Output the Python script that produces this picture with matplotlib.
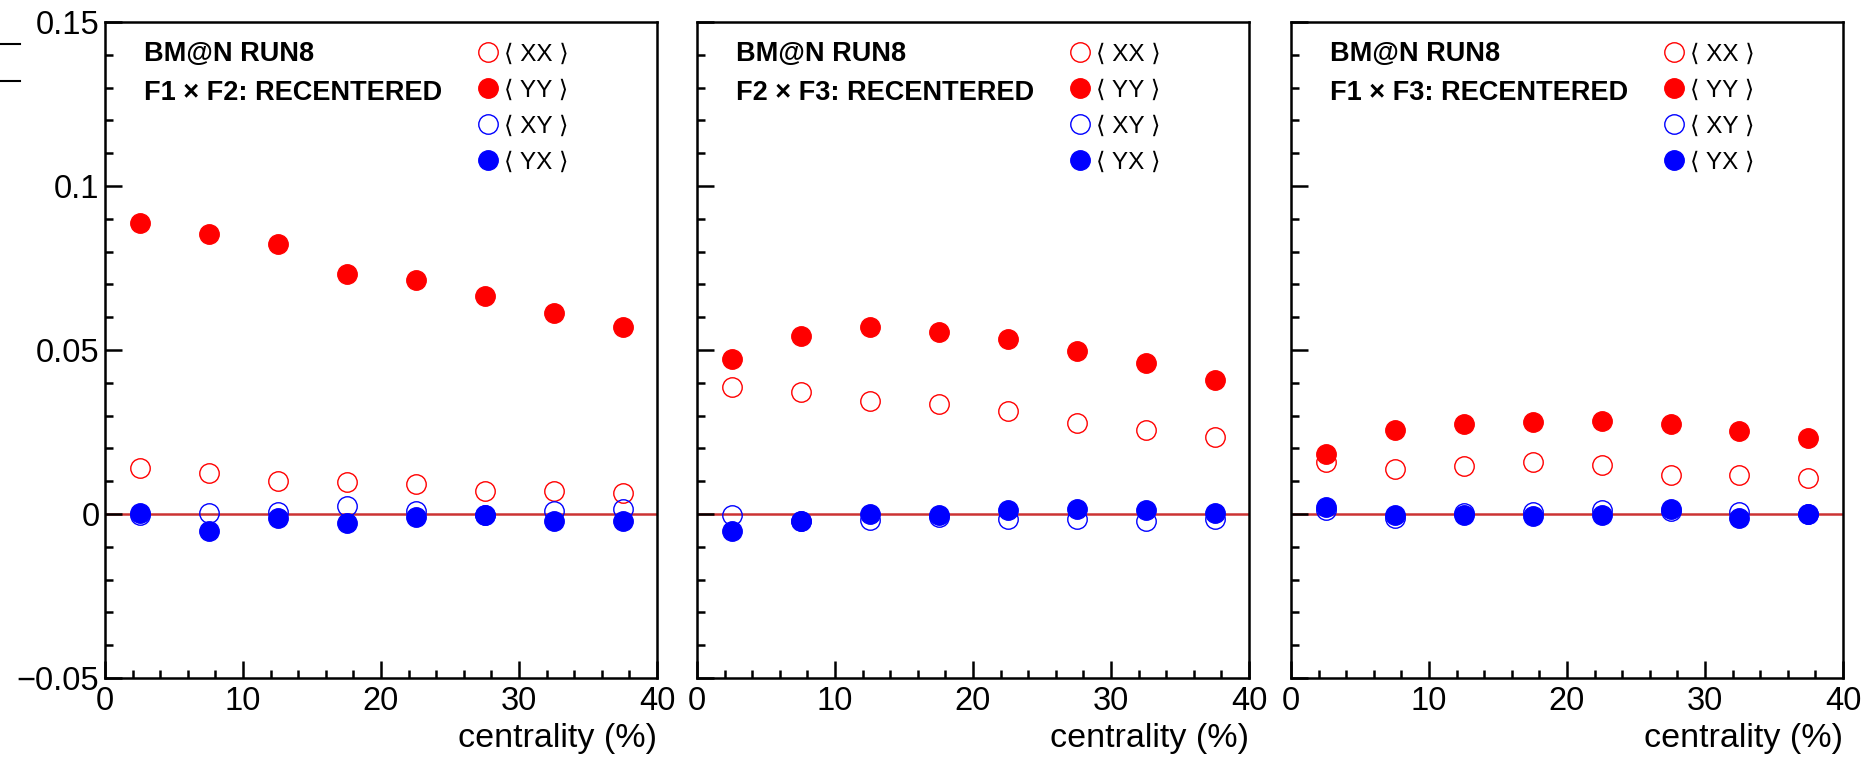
import matplotlib
matplotlib.use("Agg")
import matplotlib.pyplot as plt
from matplotlib.lines import Line2D

plt.rcParams['font.family'] = ['Liberation Sans', 'DejaVu Sans']

# centrality bin centres (%)
cent = [2.5, 7.5, 12.5, 17.5, 22.5, 27.5, 32.5, 37.5]

# F1 x F2
f12_xx = [0.0141, 0.0124, 0.0102, 0.0097, 0.0091, 0.0071, 0.0071, 0.0064]
f12_yy = [0.0888, 0.0855, 0.0824, 0.0731, 0.0714, 0.0666, 0.0614, 0.0570]
f12_xy = [-0.0003, 0.0003, 0.0007, 0.0023, 0.0008, -0.0002, 0.0008, 0.0015]
f12_yx = [0.0003, -0.0051, -0.0013, -0.0028, -0.0010, -0.0003, -0.0022, -0.0022]

# F2 x F3
f23_xx = [0.0387, 0.0371, 0.0345, 0.0335, 0.0313, 0.0277, 0.0257, 0.0235]
f23_yy = [0.0474, 0.0542, 0.0569, 0.0555, 0.0533, 0.0498, 0.0459, 0.0410]
f23_xy = [-0.0004, -0.0022, -0.0017, -0.0009, -0.0014, -0.0016, -0.0021, -0.0014]
f23_yx = [-0.0051, -0.0022, 0.0001, -0.0002, 0.0013, 0.0014, 0.0013, 0.0004]

# F1 x F3
f13_xx = [0.0159, 0.0136, 0.0145, 0.0160, 0.0148, 0.0120, 0.0118, 0.0111]
f13_yy = [0.0184, 0.0256, 0.0274, 0.0282, 0.0284, 0.0274, 0.0253, 0.0233]
f13_xy = [0.0013, -0.0011, 0.0003, 0.0006, 0.0011, 0.0008, 0.0006, 0.0001]
f13_yx = [0.0021, -0.0002, -0.0004, -0.0005, -0.0004, 0.0014, -0.0012, 0.0001]

titles = ["F1 \u00d7 F2: RECENTERED", "F2 \u00d7 F3: RECENTERED", "F1 \u00d7 F3: RECENTERED"]
series_labels = ["\u27e8 XX \u27e9", "\u27e8 YY \u27e9", "\u27e8 XY \u27e9", "\u27e8 YX \u27e9"]
yticks = [-0.05, 0, 0.05, 0.1, 0.15]
ytick_labels = ["\u22120.05", "0", "0.05", "0.1", "0.15"]
xticks = [0, 10, 20, 30, 40]

panels = [
    (f12_xx, f12_yy, f12_xy, f12_yx),
    (f23_xx, f23_yy, f23_xy, f23_yx),
    (f13_xx, f13_yy, f13_xy, f13_yx),
]

W, H = 1866, 759
fig = plt.figure(figsize=(W / 100, H / 100), dpi=100)

lefts = [105, 697, 1291]
ax_w = 552
ax_top, ax_bot = 22, 678

ms = 14
for i, (xx, yy, xy, yx) in enumerate(panels):
    ax = fig.add_axes([lefts[i] / W, 1 - ax_bot / H, ax_w / W, (ax_bot - ax_top) / H])
    ax.axhline(0, color='#cc3333', lw=1.8, zorder=1)
    h1, = ax.plot(cent, xx, 'o', ms=ms, mfc='none', mec='red', mew=1.0, zorder=3)
    h2, = ax.plot(cent, yy, 'o', ms=ms, mfc='red', mec='red', mew=1.0, zorder=3)
    h3, = ax.plot(cent, xy, 'o', ms=ms, mfc='none', mec='blue', mew=1.0, zorder=3)
    h4, = ax.plot(cent, yx, 'o', ms=ms, mfc='blue', mec='blue', mew=1.0, zorder=4)

    ax.set_xlim(0, 40)
    ax.set_ylim(-0.05, 0.15)
    ax.set_xticks(xticks)
    ax.set_xticks(range(0, 41, 2), minor=True)
    ax.set_yticks(yticks)
    ax.set_yticks([k * 0.01 for k in range(-5, 16)], minor=True)
    if i == 0:
        ax.set_yticklabels(ytick_labels)
    else:
        ax.set_yticklabels([])
    ax.tick_params(which='both', direction='in', top=False, right=False, width=1.8,
                   labelsize=23.5)
    ax.tick_params(which='major', length=12, pad=6)
    ax.tick_params(which='minor', length=6)
    ax.tick_params(axis='y', pad=4)
    for s in ax.spines.values():
        s.set_linewidth(1.8)

    ax.set_xlabel("centrality (%)", loc='right', fontsize=24.5, labelpad=4)

    ax.text(0.07, 0.951, "BM@N RUN8", transform=ax.transAxes, fontsize=19.5,
            fontweight='bold', va='center', ha='left')
    ax.text(0.07, 0.892, titles[i], transform=ax.transAxes, fontsize=19.5,
            fontweight='bold', va='center', ha='left')

    ax.legend([h1, h2, h3, h4], series_labels, loc='upper left',
              bbox_to_anchor=(0.672, 0.967), frameon=False, fontsize=17.5,
              handlelength=1.0, handletextpad=0.15, labelspacing=0.58,
              borderpad=0, borderaxespad=0)

# stray tick marks at the very left edge of the picture
for yp in (44, 81):
    fig.add_artist(Line2D([0, 20 / W], [1 - yp / H, 1 - yp / H], color='black', lw=1.5))

fig.savefig("out.png", dpi=100)
